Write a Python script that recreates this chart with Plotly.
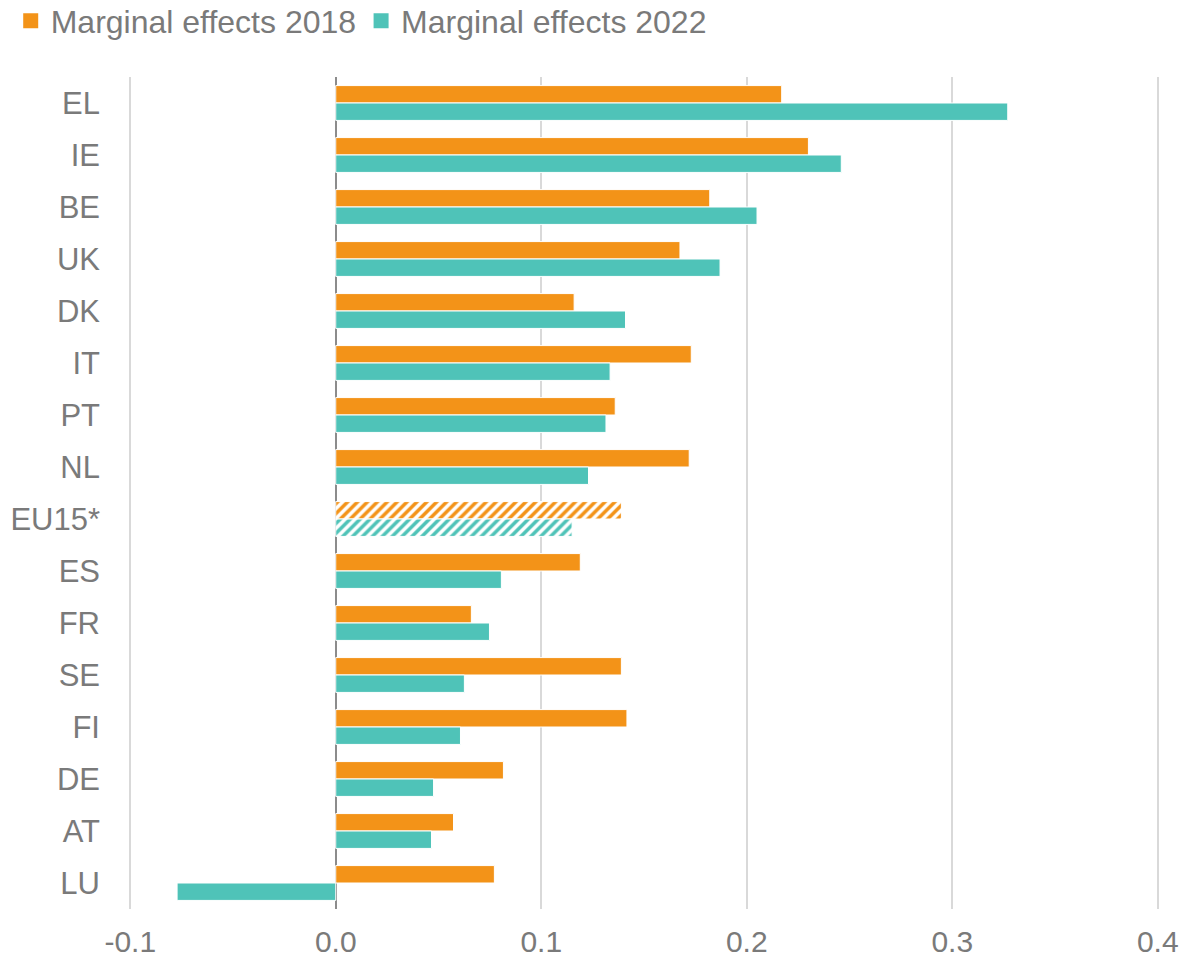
import plotly.graph_objects as go

countries = ["EL", "IE", "BE", "UK", "DK", "IT", "PT", "NL", "EU15*",
             "ES", "FR", "SE", "FI", "DE", "AT", "LU"]
effects_2018 = [0.217, 0.230, 0.182, 0.1675, 0.116, 0.173, 0.136, 0.172, 0.139,
                0.119, 0.066, 0.139, 0.1417, 0.0816, 0.0573, 0.0772]
effects_2022 = [0.327, 0.246, 0.205, 0.187, 0.141, 0.1335, 0.1315, 0.123, 0.115,
                0.0806, 0.0748, 0.0626, 0.0607, 0.0476, 0.0466, -0.0772]
x_ticks = [-0.1, 0.0, 0.1, 0.2, 0.3, 0.4]
x_tick_labels = ["-0.1", "0.0", "0.1", "0.2", "0.3", "0.4"]

ORANGE = "#F39318"
TEAL = "#4FC3B8"
TEXT = "#7A7A7A"

# EU15 average is drawn hatched
shapes = ["/" if c == "EU15*" else "" for c in countries]


def bar_marker(color):
    return dict(color=color, line=dict(color="white", width=1),
                pattern=dict(shape=shapes, size=7, solidity=0.5,
                             fgcolor=color, bgcolor="white", fillmode="replace"))


fig = go.Figure()
for name, values, color in [("Marginal effects 2018", effects_2018, ORANGE),
                            ("Marginal effects 2022", effects_2022, TEAL)]:
    fig.add_trace(go.Bar(
        y=countries, x=values, orientation="h", name=name,
        marker=bar_marker(color), legendgroup=name, showlegend=False,
    ))
    # larger square swatch for the legend entry
    fig.add_trace(go.Scatter(
        x=[None], y=[None], mode="markers", name=name, legendgroup=name,
        marker=dict(symbol="square", size=15, color=color),
    ))

fig.update_layout(
    width=1190, height=967,
    margin=dict(l=129, r=31, t=77, b=58, autoexpand=False),
    paper_bgcolor="white", plot_bgcolor="white",
    barmode="group", bargap=0.33, bargroupgap=0,
    font=dict(family="Liberation Sans, Arial, sans-serif", size=31, color=TEXT),
    legend=dict(orientation="h", xref="container", yref="container",
                x=0.009, y=1 - 21 / 967, xanchor="left", yanchor="middle",
                font=dict(size=32, color=TEXT), itemwidth=30,
                traceorder="normal"),
    showlegend=True,
)
fig.update_xaxes(
    range=[-0.1006, 0.4006], tickvals=x_ticks, ticktext=x_tick_labels,
    showgrid=True, gridcolor="#D9D9D9", gridwidth=2,
    zeroline=True, zerolinecolor="#8C8C8C", zerolinewidth=2,
    showline=False, ticks="", ticklabelstandoff=12,
    tickfont=dict(size=30, color=TEXT),
)
fig.update_yaxes(
    categoryorder="array", categoryarray=countries, autorange="reversed",
    showgrid=False, showline=False, ticks="", ticklabelstandoff=28,
    tickfont=dict(size=31, color=TEXT),
)

fig.write_html("out.html")
